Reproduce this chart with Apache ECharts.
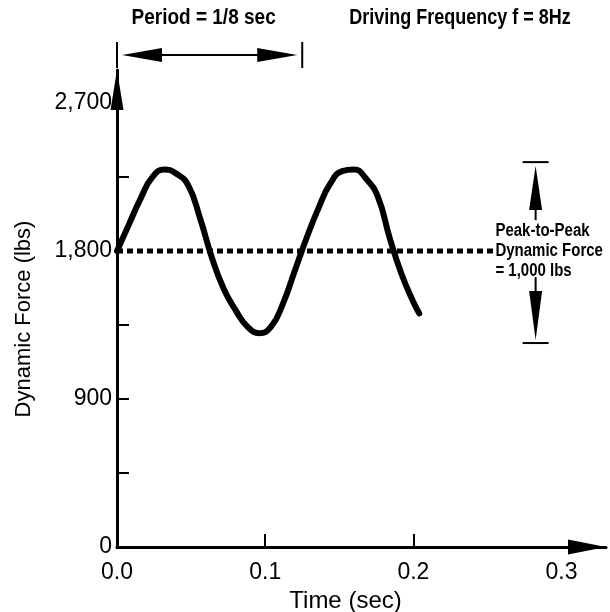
<!DOCTYPE html>
<html>
<head>
<meta charset="utf-8">
<script src="https://cdn.jsdelivr.net/npm/echarts@6/dist/echarts.min.js"></script>
<style>
  html, body { margin: 0; padding: 0; background: #fff; }
  #chart { width: 610px; height: 612px; }
</style>
</head>
<body>
<div id="chart"></div>
<script>
// values
const timeSec = [0, 0.008, 0.016, 0.024, 0.032, 0.040, 0.048, 0.056, 0.064, 0.072, 0.080, 0.088, 0.096,
  0.104, 0.112, 0.120, 0.128, 0.136, 0.144, 0.152, 0.160, 0.168, 0.176, 0.184, 0.192, 0.200, 0.204];
const forceLbs = [1800, 1960, 2120, 2250, 2295, 2270, 2200, 2000, 1760, 1570, 1440, 1340, 1300,
  1340, 1480, 1680, 1880, 2060, 2210, 2285, 2295, 2240, 2130, 1880, 1660, 1490, 1420];
const meanForce = 1800;
const meanLineEnd = 0.254;
const periodSec = 0.125;
const peakBars = [2340, 1240];
const peakMarkerTime = 0.2825;
const xLabelValues = [0, 0.1, 0.2, 0.3];
const xTickValues = [0.1, 0.2];
const yLabelValues = [0, 900, 1800, 2700];
const yTickValues = [450, 900, 1350, 2250];

const FONT = "'Liberation Sans', Arial, sans-serif";

const chart = echarts.init(document.getElementById('chart'));

chart.setOption({
  backgroundColor: '#fff',
  animation: false,
  grid: {
    left: 117, right: 4, top: 70, bottom: 65,
    containLabel: false,
    outerBoundsMode: 'none'
  },
  xAxis: {
    type: 'value',
    min: 0,
    max: 0.33,
    name: 'Time (sec)',
    nameLocation: 'middle',
    nameGap: 31,
    nameTextStyle: { fontFamily: FONT, fontSize: 24, color: '#000', padding: [0, 32, 0, 0] },
    axisLine: {
      lineStyle: { color: '#000', width: 3 },
      symbol: ['none', 'triangle'],
      symbolSize: [15, 38],
      symbolOffset: [0, -19]
    },
    axisTick: { show: true, inside: true, length: 13, customValues: xTickValues, lineStyle: { color: '#000', width: 2 } },
    axisLabel: {
      customValues: xLabelValues,
      margin: 14,
      fontFamily: FONT, fontSize: 23, color: '#000',
      formatter: v => v.toFixed(1)
    },
    splitLine: { show: false }
  },
  yAxis: {
    type: 'value',
    min: 0,
    max: 2900,
    name: 'Dynamic Force (lbs)',
    nameLocation: 'middle',
    nameGap: 82,
    nameTextStyle: { fontFamily: FONT, fontSize: 22, color: '#000', padding: [0, 21, 0, 0] },
    axisLine: {
      lineStyle: { color: '#000', width: 3 },
      symbol: ['none', 'triangle'],
      symbolSize: [13, 40],
      symbolOffset: [0, -20]
    },
    axisTick: { show: true, inside: true, length: 12, customValues: yTickValues, lineStyle: { color: '#000', width: 2 } },
    axisLabel: {
      customValues: yLabelValues,
      margin: 5,
      fontFamily: FONT, fontSize: 23, color: '#000',
      formatter: v => v.toLocaleString('en-US')
    },
    splitLine: { show: false }
  },
  series: [
    {
      name: 'Mean force',
      type: 'line',
      data: [[0, meanForce], [meanLineEnd, meanForce]],
      showSymbol: false,
      lineStyle: { color: '#000', width: 5, type: [6, 4] },
      z: 2
    },
    {
      name: 'Dynamic force',
      type: 'line',
      data: timeSec.map((t, i) => [t, forceLbs[i]]),
      smooth: true,
      showSymbol: false,
      lineStyle: { color: '#000', width: 6, cap: 'round' },
      z: 3
    }
  ]
});

// annotations placed from data positions
const px = (t, v) => chart.convertToPixel({ gridIndex: 0 }, [t, v]);
const [x0] = px(0, 0);
const [x1] = px(periodSec, 0);
const [xc, yTop] = px(peakMarkerTime, peakBars[0]);
const [, yBot] = px(peakMarkerTime, peakBars[1]);
const [xt, yMean] = px(meanLineEnd, meanForce);
const line = (a, b, c, d, w) => ({ type: 'line', shape: { x1: a, y1: b, x2: c, y2: d }, style: { stroke: '#000', lineWidth: w } });
const tri = pts => ({ type: 'polygon', shape: { points: pts }, style: { fill: '#000' } });
const label = (x, y, text, size, align, lh) => ({
  type: 'text', x, y, scaleY: 1.2,
  style: { text, fontFamily: FONT, fontSize: size, fontWeight: 'bold', lineHeight: lh || size, fill: '#000', align, verticalAlign: 'middle' }
});
const ay = 55;

chart.setOption({
  graphic: [
    line(x0, 42, x0, 68, 2),
    line(x1, 42, x1, 68, 2),
    line(x0 + 20, ay, x1 - 20, ay, 2),
    tri([[x0 + 5, ay], [x0 + 45, ay - 7], [x0 + 45, ay + 7]]),
    tri([[x1 - 5, ay], [x1 - 45, ay - 7], [x1 - 45, ay + 7]]),
    label((x0 + x1) / 2 - 6, 18, 'Period = 1/8 sec', 19, 'center'),
    label(460, 18, 'Driving Frequency f = 8Hz', 18, 'center'),
    line(xc - 13, yTop, xc + 13, yTop, 2),
    line(xc - 13, yBot, xc + 13, yBot, 2),
    tri([[xc, yTop + 4], [xc - 6.5, yTop + 48], [xc + 6.5, yTop + 48]]),
    line(xc, yTop + 40, xc, yTop + 58, 2),
    tri([[xc, yBot - 3], [xc - 6.5, yBot - 52], [xc + 6.5, yBot - 52]]),
    line(xc, yBot - 66, xc, yBot - 45, 2),
    label(xt + 2, yMean, 'Peak-to-Peak\nDynamic Force\n= 1,000 lbs', 15, 'left', 16.5)
  ]
});
</script>
</body>
</html>
